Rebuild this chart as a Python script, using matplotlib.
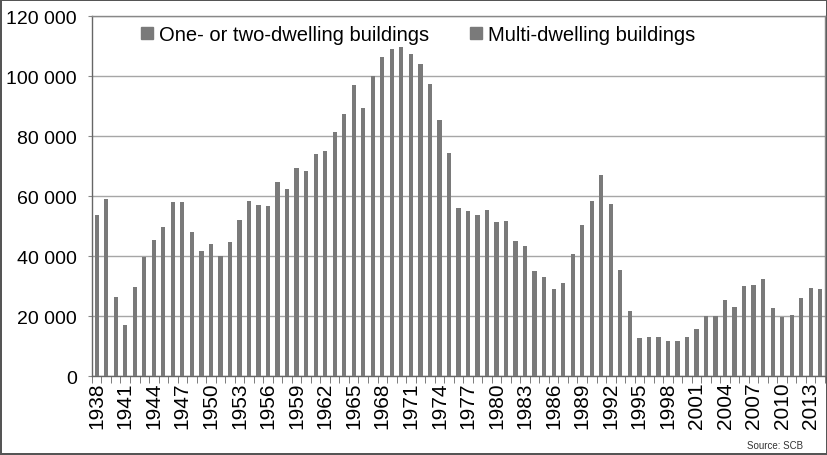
import numpy as np
import matplotlib.pyplot as plt
from matplotlib.patches import Patch

plt.rcParams['font.family'] = ['Liberation Sans', 'DejaVu Sans']

years = list(range(1938, 2015))
# completed dwellings per year
dwellings = [53700, 59000, 26200, 17000, 29600, 39600, 45200, 49600, 58100, 58100,
             48000, 41700, 43900, 40000, 44800, 52000, 58300, 57000, 56800, 64600,
             62300, 69300, 68300, 73900, 75000, 81300, 87200, 96900, 89400, 100100,
             106200, 109000, 109800, 107200, 104000, 97400, 85400, 74400, 55900, 54900,
             53800, 55400, 51400, 51600, 45100, 43400, 35000, 33000, 28900, 31000,
             40700, 50300, 58400, 67000, 57200, 35200, 21700, 12800, 13100, 13100,
             11600, 11800, 13100, 15600, 20000, 20000, 25300, 23000, 30000, 30400,
             32200, 22800, 19600, 20200, 26000, 29300, 29100]
legend_labels = ['One- or two-dwelling buildings', 'Multi-dwelling buildings']
yticks = [0, 20000, 40000, 60000, 80000, 100000, 120000]

bar_color = '#7a7a7a'

fig = plt.figure(figsize=(8.28, 4.56), dpi=100)
fig.patch.set_edgecolor('#555555')
fig.patch.set_linewidth(1.5)
ax = fig.add_axes([0.111, 0.173, 0.8854, 0.7897])

x = np.arange(len(years))
ax.bar(x, dwellings, width=0.45, color=bar_color, zorder=3)

ax.set_xlim(-0.5, len(years) - 0.5)
ax.set_ylim(0, 120000)
ax.set_yticks(yticks)
ax.set_yticklabels(['{:,}'.format(v).replace(',', ' ') for v in yticks], fontsize=14)
ax.yaxis.grid(True, color='#a6a6a6', linewidth=1, zorder=0)
ax.tick_params(axis='y', length=3, color='#888888', pad=8)

ax.set_xticks(x[::3])
ax.set_xticklabels([str(y) for y in years[::3]], rotation=90, fontsize=15)
ax.set_xticks(np.arange(len(years) + 1) - 0.5, minor=True)
ax.tick_params(axis='x', which='major', length=0, pad=4)
ax.tick_params(axis='x', which='minor', length=5, color='#666666')

for s in ax.spines.values():
    s.set_color('#888888')
    s.set_linewidth(1)
ax.spines['left'].set_color('#666666')
ax.spines['bottom'].set_color('#666666')

handles = [Patch(color=bar_color), Patch(color=bar_color)]
ax.legend(handles, legend_labels, loc='upper center', bbox_to_anchor=(0.445, 1.025),
          ncol=2, frameon=False, fontsize=14.5, handlelength=0.6, handleheight=0.6,
          handletextpad=0.3, columnspacing=2.0)

fig.text(0.97, 0.022, 'Source: SCB', fontsize=7, ha='right', va='center', color='#333333')

fig.savefig('out.png', dpi=100, edgecolor=fig.get_edgecolor())
